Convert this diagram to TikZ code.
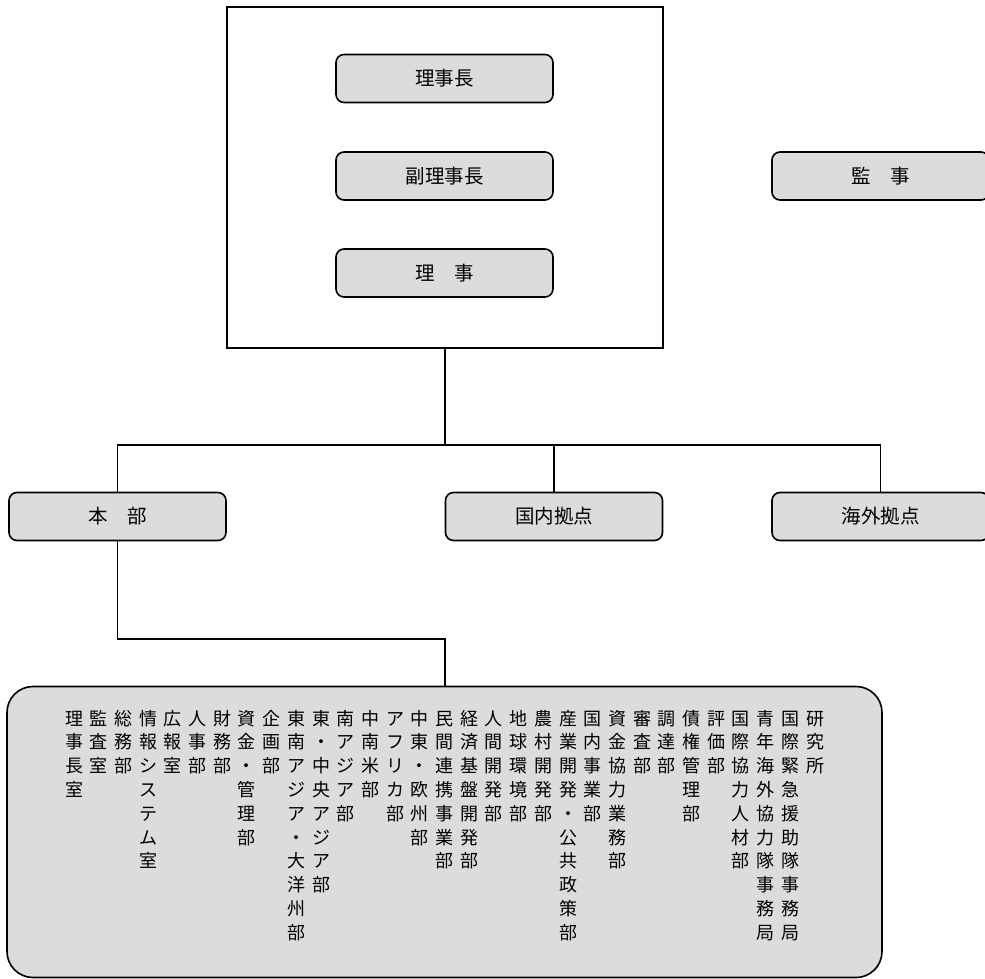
\documentclass[tikz,border=0pt]{standalone}
\usepackage{fontspec}
\newfontfamily\cjk{Noto Sans CJK JP}
\definecolor{boxgray}{RGB}{220,220,220}
\begin{document}
\begin{tikzpicture}[x=1pt,y=-1pt,
  box/.style={draw, line width=1.6pt, fill=boxgray, rounded corners=8pt,
    minimum width=217pt, minimum height=48pt, inner sep=0pt,
    font=\cjk\fontsize{19.5}{22}\selectfont},
  frame/.style={draw, line width=1.6pt, minimum width=436pt, minimum height=341pt, inner sep=0pt},
  bigbox/.style={draw, line width=1.6pt, fill=boxgray, rounded corners=26pt,
    minimum width=875pt, minimum height=291pt, inner sep=0pt},
  conn/.style={line width=1.5pt},
  vcol/.style={anchor=base, text width=20pt, align=center, inner sep=0pt,
    font=\cjk\fontsize{18}{23.8}\selectfont}]
\useasboundingbox (0,0) rectangle (985,979);
\clip (0,0) rectangle (985,979);

\node[frame] (board) at (445,177.5) {};
\node[box] (chair) at (444.5,78.5) {理事長};
\node[box] (vice) at (444.5,176) {副理事長};
\node[box] (dir) at (444.5,273) {理　事};
\node[box] (audit) at (880.5,176) {監　事};

\node[box] (hq) at (117.5,516.5) {本　部};
\node[box] (dom) at (554,516.5) {国内拠点};
\node[box] (ovs) at (880.5,516.5) {海外拠点};

\node[bigbox] (main) at (444.5,832) {};

\coordinate (j1) at (445,445);
\coordinate (j2) at (445,639);
\draw[conn] (board.south) -- (j1);
\draw[conn] (hq.north) -- (hq.north |- j1) -- (ovs.north |- j1) -- (ovs.north);
\draw[conn] (dom.north) -- (dom.north |- j1);
\draw[conn] (hq.south) |- (j2) -- (main.north -| j2);

\foreach \t [count=\i] in {
  {理\\事\\長\\室},
  {監\\査\\室},
  {総\\務\\部},
  {情\\報\\シ\\ス\\テ\\ム\\室},
  {広\\報\\室},
  {人\\事\\部},
  {財\\務\\部},
  {資\\金\\・\\管\\理\\部},
  {企\\画\\部},
  {東\\南\\ア\\ジ\\ア\\・\\大\\洋\\州\\部},
  {東\\・\\中\\央\\ア\\ジ\\ア\\部},
  {南\\ア\\ジ\\ア\\部},
  {中\\南\\米\\部},
  {ア\\フ\\リ\\カ\\部},
  {中\\東\\・\\欧\\州\\部},
  {民\\間\\連\\携\\事\\業\\部},
  {経\\済\\基\\盤\\開\\発\\部},
  {人\\間\\開\\発\\部},
  {地\\球\\環\\境\\部},
  {農\\村\\開\\発\\部},
  {産\\業\\開\\発\\・\\公\\共\\政\\策\\部},
  {国\\内\\事\\業\\部},
  {資\\金\\協\\力\\業\\務\\部},
  {審\\査\\部},
  {調\\達\\部},
  {債\\権\\管\\理\\部},
  {評\\価\\部},
  {国\\際\\協\\力\\人\\材\\部},
  {青\\年\\海\\外\\協\\力\\隊\\事\\務\\局},
  {国\\際\\緊\\急\\援\\助\\隊\\事\\務\\局},
  {研\\究\\所}} {
  \node[vcol] (c\i) at ({74+(\i-1)*24.7},725) {\t};
}
\end{tikzpicture}
\end{document}
